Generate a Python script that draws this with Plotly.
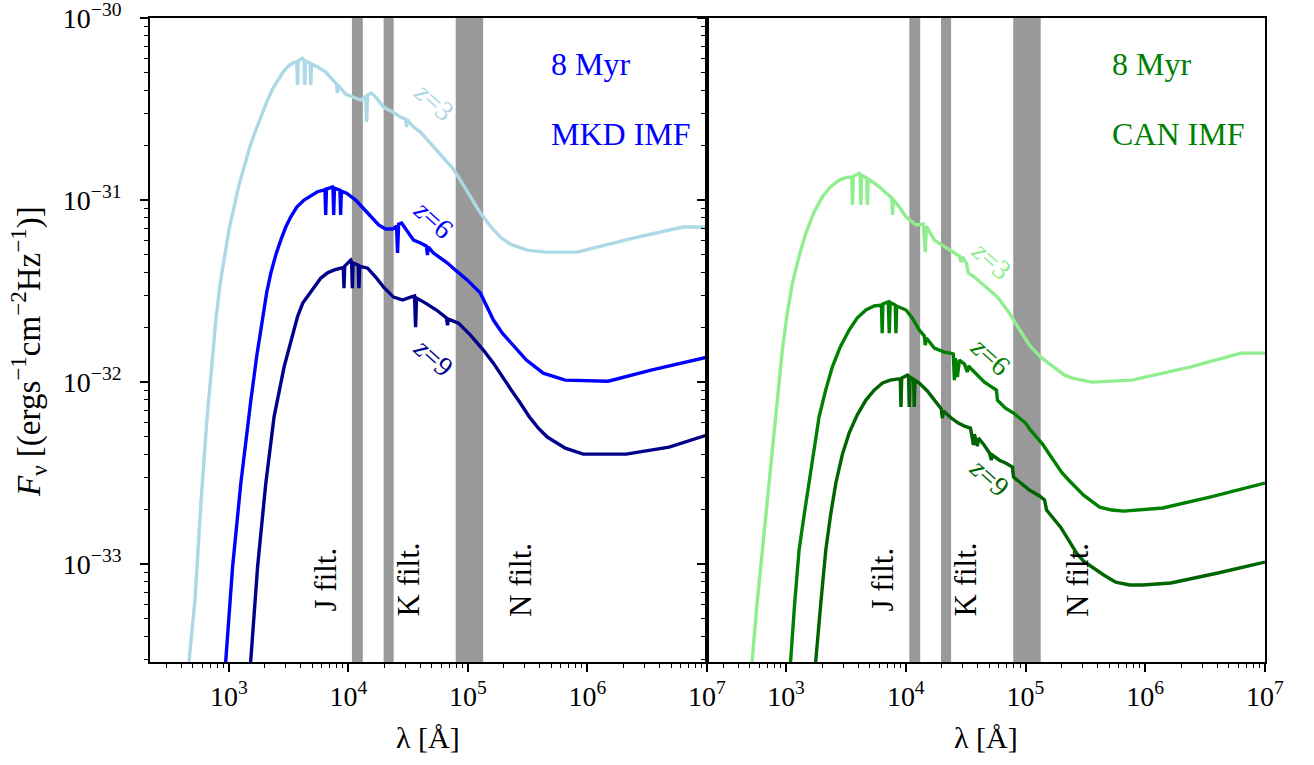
import numpy as np
import plotly.graph_objects as go

# ---------------- data (log10 values) ----------------
# Left panel (MKD IMF, 8 Myr): log10(lambda / A), log10(F_nu)
lam_z3_mkd = [2.624, 2.666, 2.716, 2.766, 2.816, 2.858, 2.891, 2.925, 2.961, 3.000, 3.044, 3.084, 3.128,
              3.175, 3.225, 3.276, 3.323, 3.365, 3.407, 3.448, 3.490, 3.526, 3.559, 3.568, 3.574, 3.580,
              3.615, 3.629, 3.635, 3.641, 3.679, 3.685, 3.691, 3.741, 3.810, 3.860, 3.902, 3.908, 3.913,
              3.977, 4.033, 4.102, 4.144, 4.152, 4.161, 4.194, 4.236, 4.294, 4.370, 4.436, 4.478, 4.486,
              4.495, 4.545, 4.603, 4.687, 4.795, 4.871, 4.937, 5.021, 5.104, 5.188, 5.271, 5.355, 5.497,
              5.647, 5.914, 6.382, 6.800, 7.000]
flux_z3_mkd = [-33.747, -33.538, -33.198, -32.665, -32.209, -31.879, -31.659, -31.467, -31.312, -31.165,
               -31.037, -30.918, -30.817, -30.709, -30.615, -30.527, -30.451, -30.390, -30.341, -30.302,
               -30.268, -30.250, -30.240, -30.239, -30.368, -30.236, -30.221, -30.231, -30.368, -30.236,
               -30.247, -30.368, -30.253, -30.268, -30.297, -30.330, -30.363, -30.412, -30.368, -30.418,
               -30.432, -30.451, -30.429, -30.571, -30.423, -30.412, -30.440, -30.489, -30.516, -30.544,
               -30.555, -30.599, -30.560, -30.599, -30.626, -30.687, -30.764, -30.824, -30.890, -30.984,
               -31.071, -31.143, -31.203, -31.242, -31.275, -31.286, -31.286, -31.209, -31.148, -31.148]

lam_z6_mkd = [2.950, 2.975, 3.031, 3.100, 3.142, 3.184, 3.234, 3.281, 3.317, 3.351, 3.392, 3.434, 3.476,
              3.518, 3.568, 3.629, 3.685, 3.741, 3.793, 3.804, 3.810, 3.816, 3.866, 3.871, 3.877, 3.883,
              3.929, 3.935, 3.941, 3.985, 4.061, 4.111, 4.161, 4.253, 4.311, 4.370, 4.403, 4.411, 4.420,
              4.445, 4.486, 4.545, 4.603, 4.653, 4.661, 4.670, 4.712, 4.829, 4.896, 4.996, 5.104, 5.213,
              5.288, 5.363, 5.489, 5.630, 5.814, 6.173, 6.532, 7.000]
flux_z6_mkd = [-33.747, -33.527, -33.015, -32.555, -32.319, -32.099, -31.852, -31.641, -31.505, -31.401,
               -31.302, -31.220, -31.148, -31.092, -31.038, -31.000, -30.978, -30.954, -30.945, -30.942,
               -31.082, -30.940, -30.927, -30.934, -31.082, -30.934, -30.945, -31.082, -30.951, -30.962,
               -31.000, -31.033, -31.071, -31.137, -31.159, -31.159, -31.143, -31.291, -31.132, -31.126,
               -31.165, -31.220, -31.236, -31.253, -31.302, -31.258, -31.291, -31.346, -31.385, -31.440,
               -31.511, -31.659, -31.731, -31.786, -31.879, -31.951, -31.989, -31.995, -31.934, -31.863]

lam_z9_mkd = [3.159, 3.184, 3.240, 3.309, 3.378, 3.462, 3.518, 3.574, 3.618, 3.657, 3.710, 3.768, 3.823,
              3.877, 3.935, 3.957, 3.963, 3.969, 4.019, 4.027, 4.033, 4.039, 4.082, 4.088, 4.094, 4.161,
              4.228, 4.294, 4.378, 4.453, 4.520, 4.553, 4.562, 4.570, 4.645, 4.737, 4.820, 4.829, 4.837,
              4.921, 5.021, 5.129, 5.213, 5.288, 5.363, 5.438, 5.514, 5.589, 5.664, 5.814, 5.965, 6.324,
              6.683, 7.000]
flux_z9_mkd = [-33.747, -33.527, -33.015, -32.555, -32.191, -31.916, -31.769, -31.641, -31.566, -31.531,
               -31.478, -31.429, -31.401, -31.385, -31.374, -31.371, -31.484, -31.363, -31.330, -31.341,
               -31.484, -31.346, -31.357, -31.484, -31.363, -31.374, -31.423, -31.478, -31.533, -31.549,
               -31.533, -31.527, -31.698, -31.538, -31.566, -31.604, -31.648, -31.687, -31.654, -31.676,
               -31.742, -31.824, -31.896, -31.973, -32.044, -32.115, -32.192, -32.253, -32.302, -32.363,
               -32.396, -32.396, -32.357, -32.291]

# Right panel (CAN IMF, 8 Myr)
lam_z3_can = [2.674, 2.718, 2.757, 2.802, 2.841, 2.885, 2.925, 2.969, 3.008, 3.053, 3.109, 3.165, 3.234,
              3.304, 3.368, 3.444, 3.502, 3.549, 3.555, 3.561, 3.611, 3.619, 3.625, 3.631, 3.674, 3.680,
              3.686, 3.728, 3.778, 3.828, 3.884, 3.890, 3.895, 3.946, 4.002, 4.085, 4.146, 4.163, 4.172,
              4.238, 4.372, 4.448, 4.464, 4.473, 4.506, 4.523, 4.573, 4.632, 4.699, 4.766, 4.816, 4.866,
              4.916, 4.967, 5.033, 5.126, 5.192, 5.259, 5.326, 5.393, 5.552, 5.887, 6.372, 6.799, 7.000]
flux_z3_can = [-33.747, -33.527, -33.225, -32.923, -32.648, -32.374, -32.099, -31.824, -31.632, -31.458,
               -31.308, -31.183, -31.066, -30.982, -30.929, -30.890, -30.876, -30.874, -31.027, -30.871,
               -30.853, -30.857, -31.027, -30.863, -30.879, -31.027, -30.885, -30.901, -30.927, -30.956,
               -30.989, -31.082, -30.995, -31.038, -31.092, -31.137, -31.132, -31.286, -31.143, -31.220,
               -31.275, -31.308, -31.341, -31.313, -31.346, -31.401, -31.423, -31.456, -31.495, -31.533,
               -31.577, -31.621, -31.676, -31.731, -31.797, -31.863, -31.896, -31.934, -31.962, -31.978,
               -32.000, -31.989, -31.918, -31.841, -31.841]

lam_z6_can = [3.000, 3.039, 3.071, 3.109, 3.151, 3.192, 3.234, 3.276, 3.331, 3.387, 3.452, 3.527, 3.594,
              3.667, 3.736, 3.797, 3.803, 3.809, 3.854, 3.862, 3.870, 3.912, 3.918, 3.924, 4.002, 4.054,
              4.113, 4.155, 4.163, 4.172, 4.238, 4.322, 4.372, 4.397, 4.406, 4.414, 4.431, 4.448, 4.490,
              4.515, 4.523, 4.573, 4.657, 4.732, 4.757, 4.766, 4.833, 4.900, 4.950, 5.000, 5.042, 5.092,
              5.142, 5.192, 5.243, 5.301, 5.360, 5.427, 5.485, 5.552, 5.619, 5.720, 5.820, 6.146, 6.540,
              7.000]
flux_z6_can = [-33.747, -33.527, -33.225, -32.923, -32.731, -32.555, -32.374, -32.191, -32.044, -31.916,
               -31.808, -31.714, -31.648, -31.604, -31.582, -31.577, -31.731, -31.571, -31.560, -31.731,
               -31.563, -31.577, -31.731, -31.582, -31.604, -31.648, -31.714, -31.747, -31.797, -31.758,
               -31.813, -31.835, -31.841, -31.846, -31.989, -31.868, -31.973, -31.879, -31.901, -31.945,
               -31.912, -31.945, -32.000, -32.033, -32.044, -32.099, -32.143, -32.170, -32.198, -32.225,
               -32.264, -32.302, -32.341, -32.390, -32.440, -32.495, -32.538, -32.582, -32.621, -32.654,
               -32.687, -32.703, -32.709, -32.692, -32.632, -32.555]

lam_z9_can = [3.226, 3.249, 3.289, 3.332, 3.372, 3.416, 3.469, 3.527, 3.594, 3.667, 3.736, 3.806, 3.870,
              3.954, 3.960, 3.966, 4.015, 4.023, 4.029, 4.035, 4.065, 4.071, 4.077, 4.113, 4.180, 4.238,
              4.297, 4.305, 4.314, 4.381, 4.439, 4.490, 4.540, 4.548, 4.565, 4.573, 4.598, 4.607, 4.649,
              4.699, 4.715, 4.724, 4.782, 4.833, 4.891, 4.900, 4.950, 5.033, 5.117, 5.159, 5.176, 5.234,
              5.293, 5.360, 5.427, 5.485, 5.552, 5.653, 5.753, 5.870, 5.979, 6.213, 6.607, 7.000]
flux_z9_can = [-33.747, -33.527, -33.225, -32.923, -32.731, -32.555, -32.401, -32.280, -32.181, -32.099,
               -32.044, -32.005, -31.989, -31.981, -32.136, -31.978, -31.962, -31.967, -32.136, -31.973,
               -31.984, -32.136, -31.989, -32.005, -32.049, -32.099, -32.148, -32.198, -32.159, -32.198,
               -32.225, -32.242, -32.253, -32.280, -32.346, -32.286, -32.352, -32.308, -32.341, -32.390,
               -32.429, -32.401, -32.429, -32.445, -32.467, -32.522, -32.549, -32.593, -32.626, -32.648,
               -32.703, -32.747, -32.797, -32.868, -32.940, -32.984, -33.016, -33.060, -33.099, -33.115,
               -33.115, -33.104, -33.049, -32.989]

# Filter bands (Angstrom)
filter_names = ["J filt.", "K filt.", "N filt."]
filter_lo = [1.07e4, 1.97e4, 7.9e4]
filter_hi = [1.32e4, 2.39e4, 1.34e5]

x_tick_vals = [1e3, 1e4, 1e5, 1e6, 1e7]
x_tick_text = ["10<sup>3</sup>", "10<sup>4</sup>", "10<sup>5</sup>", "10<sup>6</sup>", "10<sup>7</sup>"]
y_tick_vals = [1e-30, 1e-31, 1e-32, 1e-33]
y_tick_text = ["10<sup>\u221230</sup>", "10<sup>\u221231</sup>", "10<sup>\u221232</sup>", "10<sup>\u221233</sup>"]

redshift_labels = ["<i>z</i>=3", "<i>z</i>=6", "<i>z</i>=9"]
colors_mkd = ["#ADD8E6", "#0000FF", "#00008B"]
colors_can = ["#90EE90", "#008000", "#006400"]

# ---------------- figure ----------------
W, H = 1314, 765
FONT = "Liberation Serif"


def px_x(p):
    return p / W


def px_y(p):
    return 1 - p / H


fig = go.Figure()

# filter bands
for xa, ya in (("x", "y"), ("x2", "y2")):
    for lo, hi in zip(filter_lo, filter_hi):
        fig.add_trace(go.Scatter(
            x=[lo, hi, hi, lo, lo], y=[1e-36, 1e-36, 1e-29, 1e-29, 1e-36],
            mode="lines", line=dict(width=0, color="#999999"),
            fill="toself", fillcolor="#999999", hoverinfo="skip",
            xaxis=xa, yaxis=ya, showlegend=False))

series_mkd = [(lam_z3_mkd, flux_z3_mkd), (lam_z6_mkd, flux_z6_mkd), (lam_z9_mkd, flux_z9_mkd)]
series_can = [(lam_z3_can, flux_z3_can), (lam_z6_can, flux_z6_can), (lam_z9_can, flux_z9_can)]

for (lx, ly), c in zip(series_mkd, colors_mkd):
    fig.add_trace(go.Scatter(x=10 ** np.array(lx), y=10 ** np.array(ly), mode="lines",
                             line=dict(color=c, width=3.4), xaxis="x", yaxis="y", showlegend=False))
for (lx, ly), c in zip(series_can, colors_can):
    fig.add_trace(go.Scatter(x=10 ** np.array(lx), y=10 ** np.array(ly), mode="lines",
                             line=dict(color=c, width=3.4), xaxis="x2", yaxis="y2", showlegend=False))

minor_x = [k * 10 ** n for n in range(2, 7) for k in range(2, 10)]
minor_y = [k * 10.0 ** n for n in range(-34, -30) for k in range(2, 10)]

xdom1 = [px_x(150), px_x(707)]
xdom2 = [px_x(707), px_x(1265)]
ydom = [px_y(662), px_y(18)]

axis_common = dict(type="log", showline=True, mirror=True, linecolor="black", linewidth=1.8,
                   ticks="outside", ticklen=8, tickwidth=1.5, tickcolor="black",
                   showgrid=False, zeroline=False, automargin=False, ticklabeloverflow="allow",
                   tickfont=dict(family=FONT, size=28, color="black"))

xaxis_common = dict(axis_common, range=[2.34, 7.0001], tickmode="array", tickvals=x_tick_vals,
                    ticktext=x_tick_text,
                    minor=dict(tickmode="array", tickvals=minor_x, ticks="outside", ticklen=4,
                               tickwidth=1.2, tickcolor="black", showgrid=False))
yaxis_common = dict(axis_common, range=[-33.538, -29.9995], tickmode="array", tickvals=y_tick_vals,
                    ticktext=y_tick_text, ticklabelstandoff=13,
                    minor=dict(tickmode="array", tickvals=minor_y, ticks="outside", ticklen=4,
                               tickwidth=1.2, tickcolor="black", showgrid=False))

fig.update_layout(
    width=W, height=H, autosize=False,
    margin=dict(l=0, r=0, t=0, b=0, pad=0),
    paper_bgcolor="white", plot_bgcolor="white",
    showlegend=False,
    xaxis=dict(xaxis_common, domain=xdom1, anchor="y"),
    yaxis=dict(yaxis_common, domain=ydom, anchor="x"),
    xaxis2=dict(xaxis_common, domain=xdom2, anchor="y2"),
    yaxis2=dict(yaxis_common, domain=ydom, anchor="x2", matches="y", showticklabels=False),
)

ann = []
# axis titles
ann.append(dict(text="<i>F</i><sub>\u03bd</sub> [(ergs<sup>\u22121</sup>cm<sup>\u22122</sup>Hz<sup>\u22121</sup>)]",
                x=px_x(29), y=px_y(352), xref="paper", yref="paper", textangle=-90,
                showarrow=False, font=dict(family=FONT, size=33, color="black"),
                xanchor="center", yanchor="middle"))
for cx in (428, 986):
    ann.append(dict(text="\u03bb [\u00c5]", x=px_x(cx), y=px_y(737), xref="paper", yref="paper",
                    showarrow=False, font=dict(family=FONT, size=30, color="black"),
                    xanchor="center", yanchor="middle"))

# panel labels
for left, col, imf in ((549, "#0000FF", "MKD IMF"), (1110, "#008000", "CAN IMF")):
    ann.append(dict(text="8 Myr", x=px_x(left), y=px_y(64), xref="paper", yref="paper",
                    showarrow=False, font=dict(family=FONT, size=32, color=col),
                    xanchor="left", yanchor="middle"))
    ann.append(dict(text=imf, x=px_x(left), y=px_y(134), xref="paper", yref="paper",
                    showarrow=False, font=dict(family=FONT, size=32, color=col),
                    xanchor="left", yanchor="middle"))

# filter labels
for off in (0, 557):
    for name, cx in zip(filter_names, (324.5, 407.5, 520)):
        ann.append(dict(text=name, x=px_x(cx + off), y=px_y(580), xref="paper", yref="paper",
                        textangle=-90, showarrow=False,
                        font=dict(family=FONT, size=31, color="black"),
                        xanchor="center", yanchor="middle"))

# redshift labels
z_pos_mkd = [(434, 102), (434, 219), (434, 357)]
z_pos_can = [(992, 260), (991, 356), (990, 477)]
for lbl, (cx, cy), col in zip(redshift_labels, z_pos_mkd, colors_mkd):
    ann.append(dict(text=lbl, x=px_x(cx), y=px_y(cy), xref="paper", yref="paper", textangle=42,
                    showarrow=False, font=dict(family=FONT, size=28, color=col),
                    xanchor="center", yanchor="middle"))
for lbl, (cx, cy), col in zip(redshift_labels, z_pos_can, colors_can):
    ann.append(dict(text=lbl, x=px_x(cx), y=px_y(cy), xref="paper", yref="paper", textangle=42,
                    showarrow=False, font=dict(family=FONT, size=28, color=col),
                    xanchor="center", yanchor="middle"))

fig.update_layout(annotations=ann)

fig.write_html("out.html", config={"responsive": False})
